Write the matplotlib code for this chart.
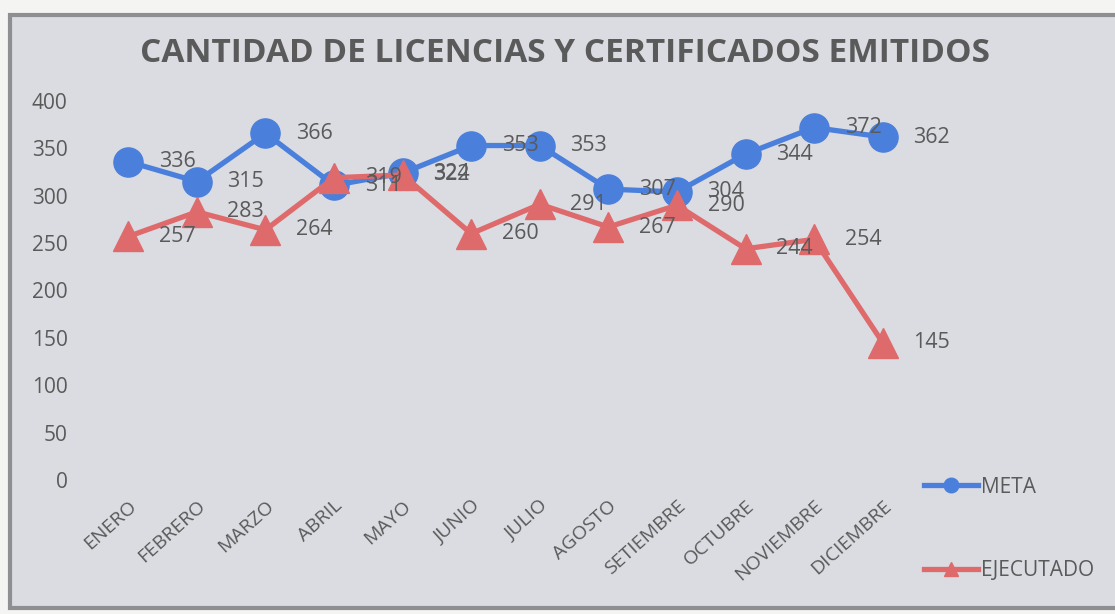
import matplotlib
matplotlib.use("Agg")
import matplotlib.pyplot as plt
from matplotlib.patches import Rectangle

months = ["ENERO", "FEBRERO", "MARZO", "ABRIL", "MAYO", "JUNIO", "JULIO",
          "AGOSTO", "SETIEMBRE", "OCTUBRE", "NOVIEMBRE", "DICIEMBRE"]
meta = [336, 315, 366, 311, 324, 353, 353, 307, 304, 344, 372, 362]
ejecutado = [257, 283, 264, 319, 322, 260, 291, 267, 290, 244, 254, 145]
yticks = [0, 50, 100, 150, 200, 250, 300, 350, 400]

title = "CANTIDAD DE LICENCIAS Y CERTIFICADOS EMITIDOS"
blue = "#4a7fdc"
red = "#df6a6c"
txt = "#5a5a5a"
bg = "#dadce1"

plt.rcParams['font.family'] = ['Open Sans', 'DejaVu Sans']

fig = plt.figure(figsize=(11.15, 6.14), dpi=100)
fig.patch.set_facecolor("#f4f4f2")
# chart area frame
fig.patches.append(Rectangle((10 / 1115, 6 / 614), 1.2, 1 - 21 / 614,
                             transform=fig.transFigure, facecolor=bg,
                             edgecolor="#8d8f93", linewidth=3, zorder=-10))

ax = fig.add_axes([94 / 1115, 1 - 480 / 614, 823 / 1115, 379 / 614])
ax.set_zorder(2)
ax.set_facecolor("none")
x = list(range(len(months)))
ax.plot(x, meta, color=blue, lw=3.8, marker="o", ms=21, label="META", zorder=3)
ax.plot(x, ejecutado, color=red, lw=3.8, marker="^", ms=21, label="EJECUTADO", zorder=4)

for i, v in enumerate(meta):
    ax.annotate(str(v), (i, v), xytext=(22, 0), textcoords="offset points",
                ha="left", va="center", fontsize=15.5, color=txt, zorder=5)
for i, v in enumerate(ejecutado):
    ax.annotate(str(v), (i, v), xytext=(22, 0), textcoords="offset points",
                ha="left", va="center", fontsize=15.5, color=txt, zorder=5)

ax.set_xlim(-0.5, len(months) - 0.5)
ax.set_ylim(0, 400)
ax.set_yticks(yticks)
ax.set_yticklabels([str(t) for t in yticks], fontsize=15, color=txt)
ax.set_xticks(x)
ax.set_xticklabels(months, rotation=42, ha="right", rotation_mode="anchor",
                   fontsize=14, color=txt)
ax.tick_params(axis="y", length=0, pad=19)
ax.tick_params(axis="x", length=0, pad=12)
for s in ax.spines.values():
    s.set_visible(False)

fig.text(565 / 1115, 1 - 53 / 614, title, ha="center", va="center",
         fontsize=24, fontweight="bold", color=txt)

fig.legend(loc="upper left", bbox_to_anchor=(905 / 1115, 1 - 458 / 614),
           frameon=False, fontsize=15, labelcolor=txt, handlelength=2.6,
           markerscale=0.5, labelspacing=3.0, handletextpad=0.15)

fig.savefig("out.png", dpi=100, facecolor=fig.get_facecolor())
